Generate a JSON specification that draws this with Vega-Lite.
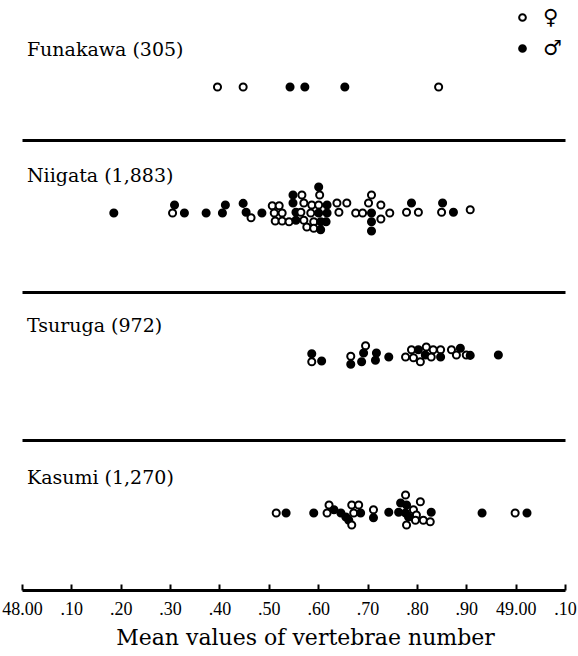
{
  "$schema": "https://vega.github.io/schema/vega-lite/v6.json",
  "background": "white",
  "padding": {"left": 1, "top": 0, "right": 0, "bottom": 0},
  "spacing": 0,
  "config": {"view": {"stroke": null}, "font": "DejaVu Serif"},
  "datasets": {
    "dots": [
      {"site": "Funakawa", "value": 48.396, "level": 0, "sex": "♀"},
      {"site": "Funakawa", "value": 48.448, "level": 0, "sex": "♀"},
      {"site": "Funakawa", "value": 48.543, "level": 0, "sex": "♂"},
      {"site": "Funakawa", "value": 48.573, "level": 0, "sex": "♂"},
      {"site": "Funakawa", "value": 48.654, "level": 0, "sex": "♂"},
      {"site": "Funakawa", "value": 48.844, "level": 0, "sex": "♀"},

      {"site": "Niigata", "value": 48.186, "level": 0, "sex": "♂"},
      {"site": "Niigata", "value": 48.309, "level": 1, "sex": "♂"},
      {"site": "Niigata", "value": 48.305, "level": 0, "sex": "♀"},
      {"site": "Niigata", "value": 48.329, "level": 0, "sex": "♂"},
      {"site": "Niigata", "value": 48.373, "level": 0, "sex": "♂"},
      {"site": "Niigata", "value": 48.412, "level": 1, "sex": "♂"},
      {"site": "Niigata", "value": 48.406, "level": 0, "sex": "♂"},
      {"site": "Niigata", "value": 48.448, "level": 1.2, "sex": "♂"},
      {"site": "Niigata", "value": 48.454, "level": 0.1, "sex": "♂"},
      {"site": "Niigata", "value": 48.464, "level": -0.6, "sex": "♀"},
      {"site": "Niigata", "value": 48.486, "level": 0, "sex": "♂"},
      {"site": "Niigata", "value": 48.507, "level": 0.9, "sex": "♀"},
      {"site": "Niigata", "value": 48.521, "level": 0.9, "sex": "♀"},
      {"site": "Niigata", "value": 48.511, "level": 0, "sex": "♀"},
      {"site": "Niigata", "value": 48.527, "level": 0, "sex": "♀"},
      {"site": "Niigata", "value": 48.513, "level": -1, "sex": "♀"},
      {"site": "Niigata", "value": 48.527, "level": -1, "sex": "♀"},
      {"site": "Niigata", "value": 48.541, "level": -1.1, "sex": "♀"},
      {"site": "Niigata", "value": 48.549, "level": 2.25, "sex": "♂"},
      {"site": "Niigata", "value": 48.549, "level": 1.25, "sex": "♂"},
      {"site": "Niigata", "value": 48.555, "level": 0.1, "sex": "♂"},
      {"site": "Niigata", "value": 48.555, "level": -0.9, "sex": "♂"},
      {"site": "Niigata", "value": 48.567, "level": 2.25, "sex": "♀"},
      {"site": "Niigata", "value": 48.571, "level": 1.25, "sex": "♀"},
      {"site": "Niigata", "value": 48.565, "level": 0.1, "sex": "♀"},
      {"site": "Niigata", "value": 48.571, "level": -0.9, "sex": "♀"},
      {"site": "Niigata", "value": 48.577, "level": -1.75, "sex": "♀"},
      {"site": "Niigata", "value": 48.601, "level": 3.25, "sex": "♂"},
      {"site": "Niigata", "value": 48.603, "level": 2.25, "sex": "♀"},
      {"site": "Niigata", "value": 48.587, "level": 1, "sex": "♀"},
      {"site": "Niigata", "value": 48.601, "level": 1, "sex": "♀"},
      {"site": "Niigata", "value": 48.585, "level": 0, "sex": "♀"},
      {"site": "Niigata", "value": 48.601, "level": 0, "sex": "♂"},
      {"site": "Niigata", "value": 48.591, "level": -1.1, "sex": "♀"},
      {"site": "Niigata", "value": 48.605, "level": -1.1, "sex": "♂"},
      {"site": "Niigata", "value": 48.591, "level": -1.9, "sex": "♀"},
      {"site": "Niigata", "value": 48.605, "level": -2.1, "sex": "♂"},
      {"site": "Niigata", "value": 48.618, "level": 1, "sex": "♂"},
      {"site": "Niigata", "value": 48.618, "level": 0, "sex": "♂"},
      {"site": "Niigata", "value": 48.616, "level": -1.1, "sex": "♂"},
      {"site": "Niigata", "value": 48.638, "level": 1.25, "sex": "♀"},
      {"site": "Niigata", "value": 48.658, "level": 1.25, "sex": "♀"},
      {"site": "Niigata", "value": 48.642, "level": 0.1, "sex": "♀"},
      {"site": "Niigata", "value": 48.676, "level": 0, "sex": "♀"},
      {"site": "Niigata", "value": 48.690, "level": 0, "sex": "♀"},
      {"site": "Niigata", "value": 48.708, "level": 2.25, "sex": "♀"},
      {"site": "Niigata", "value": 48.702, "level": 1.25, "sex": "♀"},
      {"site": "Niigata", "value": 48.727, "level": 1, "sex": "♀"},
      {"site": "Niigata", "value": 48.708, "level": 0, "sex": "♂"},
      {"site": "Niigata", "value": 48.727, "level": -0.75, "sex": "♀"},
      {"site": "Niigata", "value": 48.745, "level": 0, "sex": "♀"},
      {"site": "Niigata", "value": 48.708, "level": -1.1, "sex": "♂"},
      {"site": "Niigata", "value": 48.708, "level": -2.25, "sex": "♂"},
      {"site": "Niigata", "value": 48.789, "level": 1.25, "sex": "♂"},
      {"site": "Niigata", "value": 48.779, "level": 0.1, "sex": "♀"},
      {"site": "Niigata", "value": 48.803, "level": 0.1, "sex": "♀"},
      {"site": "Niigata", "value": 48.852, "level": 1.25, "sex": "♂"},
      {"site": "Niigata", "value": 48.850, "level": 0.1, "sex": "♀"},
      {"site": "Niigata", "value": 48.874, "level": 0.1, "sex": "♂"},
      {"site": "Niigata", "value": 48.908, "level": 0.4, "sex": "♀"},

      {"site": "Tsuruga", "value": 48.587, "level": 0.4, "sex": "♂"},
      {"site": "Tsuruga", "value": 48.587, "level": -0.6, "sex": "♀"},
      {"site": "Tsuruga", "value": 48.607, "level": -0.5, "sex": "♂"},
      {"site": "Tsuruga", "value": 48.666, "level": 0.1, "sex": "♀"},
      {"site": "Tsuruga", "value": 48.666, "level": -0.9, "sex": "♂"},
      {"site": "Tsuruga", "value": 48.696, "level": 1.4, "sex": "♀"},
      {"site": "Tsuruga", "value": 48.692, "level": 0.5, "sex": "♂"},
      {"site": "Tsuruga", "value": 48.688, "level": -0.6, "sex": "♂"},
      {"site": "Tsuruga", "value": 48.718, "level": 0.5, "sex": "♂"},
      {"site": "Tsuruga", "value": 48.716, "level": -0.4, "sex": "♂"},
      {"site": "Tsuruga", "value": 48.743, "level": 0, "sex": "♂"},
      {"site": "Tsuruga", "value": 48.777, "level": 0, "sex": "♀"},
      {"site": "Tsuruga", "value": 48.789, "level": 0.9, "sex": "♀"},
      {"site": "Tsuruga", "value": 48.803, "level": 0.9, "sex": "♂"},
      {"site": "Tsuruga", "value": 48.819, "level": 1.25, "sex": "♀"},
      {"site": "Tsuruga", "value": 48.833, "level": 0.9, "sex": "♀"},
      {"site": "Tsuruga", "value": 48.848, "level": 0.9, "sex": "♀"},
      {"site": "Tsuruga", "value": 48.793, "level": -0.1, "sex": "♀"},
      {"site": "Tsuruga", "value": 48.807, "level": -0.6, "sex": "♀"},
      {"site": "Tsuruga", "value": 48.817, "level": 0.25, "sex": "♂"},
      {"site": "Tsuruga", "value": 48.829, "level": 0, "sex": "♀"},
      {"site": "Tsuruga", "value": 48.848, "level": 0, "sex": "♂"},
      {"site": "Tsuruga", "value": 48.870, "level": 0.9, "sex": "♀"},
      {"site": "Tsuruga", "value": 48.888, "level": 1.1, "sex": "♂"},
      {"site": "Tsuruga", "value": 48.880, "level": 0.25, "sex": "♀"},
      {"site": "Tsuruga", "value": 48.900, "level": 0.25, "sex": "♀"},
      {"site": "Tsuruga", "value": 48.908, "level": 0.2, "sex": "♂"},
      {"site": "Tsuruga", "value": 48.965, "level": 0.25, "sex": "♂"},

      {"site": "Kasumi", "value": 48.515, "level": 0, "sex": "♀"},
      {"site": "Kasumi", "value": 48.535, "level": 0, "sex": "♂"},
      {"site": "Kasumi", "value": 48.591, "level": 0, "sex": "♂"},
      {"site": "Kasumi", "value": 48.622, "level": 1, "sex": "♀"},
      {"site": "Kasumi", "value": 48.618, "level": 0, "sex": "♀"},
      {"site": "Kasumi", "value": 48.632, "level": 0.4, "sex": "♂"},
      {"site": "Kasumi", "value": 48.646, "level": 0, "sex": "♂"},
      {"site": "Kasumi", "value": 48.656, "level": -0.5, "sex": "♂"},
      {"site": "Kasumi", "value": 48.668, "level": 1, "sex": "♀"},
      {"site": "Kasumi", "value": 48.682, "level": 1, "sex": "♀"},
      {"site": "Kasumi", "value": 48.672, "level": 0, "sex": "♀"},
      {"site": "Kasumi", "value": 48.662, "level": -0.9, "sex": "♂"},
      {"site": "Kasumi", "value": 48.668, "level": -1.5, "sex": "♀"},
      {"site": "Kasumi", "value": 48.686, "level": 0, "sex": "♂"},
      {"site": "Kasumi", "value": 48.712, "level": 0.4, "sex": "♀"},
      {"site": "Kasumi", "value": 48.712, "level": -0.6, "sex": "♂"},
      {"site": "Kasumi", "value": 48.743, "level": 0.1, "sex": "♂"},
      {"site": "Kasumi", "value": 48.777, "level": 2.25, "sex": "♀"},
      {"site": "Kasumi", "value": 48.767, "level": 1.25, "sex": "♂"},
      {"site": "Kasumi", "value": 48.779, "level": 1, "sex": "♂"},
      {"site": "Kasumi", "value": 48.763, "level": 0.1, "sex": "♂"},
      {"site": "Kasumi", "value": 48.777, "level": 0, "sex": "♂"},
      {"site": "Kasumi", "value": 48.793, "level": 0.4, "sex": "♀"},
      {"site": "Kasumi", "value": 48.807, "level": 1.4, "sex": "♀"},
      {"site": "Kasumi", "value": 48.799, "level": -0.25, "sex": "♀"},
      {"site": "Kasumi", "value": 48.779, "level": -1.5, "sex": "♀"},
      {"site": "Kasumi", "value": 48.797, "level": -0.9, "sex": "♀"},
      {"site": "Kasumi", "value": 48.813, "level": -0.9, "sex": "♀"},
      {"site": "Kasumi", "value": 48.827, "level": -1.1, "sex": "♀"},
      {"site": "Kasumi", "value": 48.829, "level": 0.1, "sex": "♂"},
      {"site": "Kasumi", "value": 48.783, "level": -0.5, "sex": "♂"},
      {"site": "Kasumi", "value": 48.932, "level": 0, "sex": "♂"},
      {"site": "Kasumi", "value": 48.999, "level": 0, "sex": "♀"},
      {"site": "Kasumi", "value": 49.023, "level": 0, "sex": "♂"}
    ],
    "labels": [
      {"site": "Funakawa", "label": "Funakawa (305)"},
      {"site": "Niigata", "label": "Niigata (1,883)"},
      {"site": "Tsuruga", "label": "Tsuruga (972)"},
      {"site": "Kasumi", "label": "Kasumi (1,270)"}
    ]
  },
  "resolve": {"scale": {"fill": "independent"}, "legend": {"fill": "independent"}},
  "vconcat": [
    {
      "width": 543, "height": 140,
      "layer": [
        {
          "data": {"name": "dots"},
          "transform": [{"filter": "datum.site === 'Funakawa'"}],
          "mark": {"type": "circle", "size": 50, "stroke": "black", "strokeWidth": 2, "opacity": 1},
          "encoding": {
            "x": {"field": "value", "type": "quantitative", "scale": {"domain": [48, 49.1], "nice": false, "zero": false},
                  "axis": {"domain": true, "domainWidth": 3, "domainColor": "black", "ticks": false, "labels": false, "grid": false, "title": null}},
            "y": {"field": "level", "type": "quantitative", "scale": {"domain": [-6.625, 10.875], "nice": false, "zero": false}, "axis": null},
            "fill": {"field": "sex", "type": "nominal", "scale": {"domain": ["♀", "♂"], "range": ["white", "black"]},
                     "legend": {"orient": "none", "legendX": 490, "legendY": 7, "title": null, "symbolType": "circle", "symbolSize": 45,
                                "symbolStrokeColor": "black", "symbolStrokeWidth": 2, "labelFont": "DejaVu Sans", "labelFontSize": 21,
                                "labelColor": "black", "labelOffset": 10, "rowPadding": 9}}
          }
        },
        {
          "data": {"name": "labels"},
          "transform": [{"filter": "datum.site === 'Funakawa'"}],
          "mark": {"type": "text", "align": "left", "baseline": "middle", "font": "DejaVu Serif", "fontSize": 19, "color": "black"},
          "encoding": {"x": {"datum": 48.01}, "y": {"datum": 4.6}, "text": {"field": "label"}}
        }
      ]
    },
    {
      "width": 543, "height": 152,
      "layer": [
        {
          "data": {"name": "dots"},
          "transform": [{"filter": "datum.site === 'Niigata'"}],
          "mark": {"type": "circle", "size": 50, "stroke": "black", "strokeWidth": 2, "opacity": 1},
          "encoding": {
            "x": {"field": "value", "type": "quantitative", "scale": {"domain": [48, 49.1], "nice": false, "zero": false},
                  "axis": {"domain": true, "domainWidth": 3, "domainColor": "black", "ticks": false, "labels": false, "grid": false, "title": null}},
            "y": {"field": "level", "type": "quantitative", "scale": {"domain": [-9.875, 9.125], "nice": false, "zero": false}, "axis": null},
            "fill": {"field": "sex", "type": "nominal", "scale": {"domain": ["♀", "♂"], "range": ["white", "black"]}, "legend": null}
          }
        },
        {
          "data": {"name": "labels"},
          "transform": [{"filter": "datum.site === 'Niigata'"}],
          "mark": {"type": "text", "align": "left", "baseline": "middle", "font": "DejaVu Serif", "fontSize": 19, "color": "black"},
          "encoding": {"x": {"datum": 48.01}, "y": {"datum": 4.6}, "text": {"field": "label"}}
        }
      ]
    },
    {
      "width": 543, "height": 148,
      "layer": [
        {
          "data": {"name": "dots"},
          "transform": [{"filter": "datum.site === 'Tsuruga'"}],
          "mark": {"type": "circle", "size": 50, "stroke": "black", "strokeWidth": 2, "opacity": 1},
          "encoding": {
            "x": {"field": "value", "type": "quantitative", "scale": {"domain": [48, 49.1], "nice": false, "zero": false},
                  "axis": {"domain": true, "domainWidth": 3, "domainColor": "black", "ticks": false, "labels": false, "grid": false, "title": null}},
            "y": {"field": "level", "type": "quantitative", "scale": {"domain": [-10.375, 8.125], "nice": false, "zero": false}, "axis": null},
            "fill": {"field": "sex", "type": "nominal", "scale": {"domain": ["♀", "♂"], "range": ["white", "black"]}, "legend": null}
          }
        },
        {
          "data": {"name": "labels"},
          "transform": [{"filter": "datum.site === 'Tsuruga'"}],
          "mark": {"type": "text", "align": "left", "baseline": "middle", "font": "DejaVu Serif", "fontSize": 19, "color": "black"},
          "encoding": {"x": {"datum": 48.01}, "y": {"datum": 3.9}, "text": {"field": "label"}}
        }
      ]
    },
    {
      "width": 543, "height": 150,
      "layer": [
        {
          "data": {"name": "dots"},
          "transform": [{"filter": "datum.site === 'Kasumi'"}],
          "mark": {"type": "circle", "size": 50, "stroke": "black", "strokeWidth": 2, "opacity": 1},
          "encoding": {
            "x": {"field": "value", "type": "quantitative", "scale": {"domain": [48, 49.1], "nice": false, "zero": false},
                  "axis": {"values": [48, 48.1, 48.2, 48.3, 48.4, 48.5, 48.6, 48.7, 48.8, 48.9, 49, 49.1],
                           "labelExpr": "abs(datum.value - 48) < 0.001 ? '48.00' : abs(datum.value - 49) < 0.001 ? '49.00' : replace(format(datum.value % 1, '.2f'), '0.', '.')",
                           "domain": true, "domainWidth": 3, "domainColor": "black", "ticks": true, "tickSize": -6, "tickWidth": 2, "tickColor": "black",
                           "labelFont": "Liberation Serif", "labelFontSize": 18, "labelColor": "black", "labelPadding": 16, "labelFlush": false, "labelOverlap": false,
                           "grid": false, "title": "Mean values of vertebrae number", "titleFont": "DejaVu Serif", "titleFontSize": 22,
                           "titleFontWeight": "normal", "titleColor": "black", "titlePadding": 9, "titleX": 283}},
            "y": {"field": "level", "type": "quantitative", "scale": {"domain": [-9.625, 9.125], "nice": false, "zero": false}, "axis": null},
            "fill": {"field": "sex", "type": "nominal", "scale": {"domain": ["♀", "♂"], "range": ["white", "black"]}, "legend": null}
          }
        },
        {
          "data": {"name": "labels"},
          "transform": [{"filter": "datum.site === 'Kasumi'"}],
          "mark": {"type": "text", "align": "left", "baseline": "middle", "font": "DejaVu Serif", "fontSize": 19, "color": "black"},
          "encoding": {"x": {"datum": 48.01}, "y": {"datum": 4.4}, "text": {"field": "label"}}
        }
      ]
    }
  ]
}
